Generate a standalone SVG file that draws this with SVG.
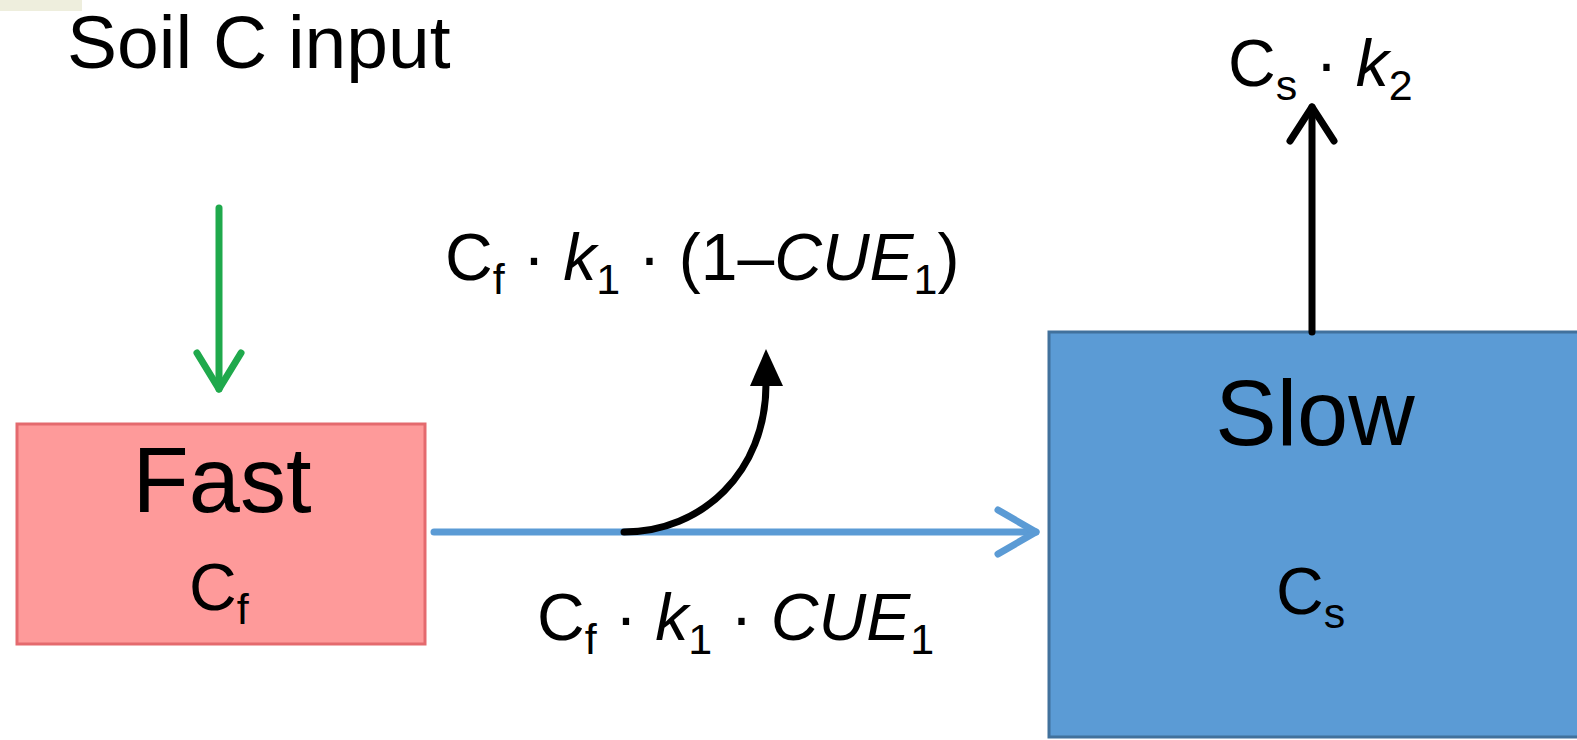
<svg xmlns="http://www.w3.org/2000/svg" width="1577" height="740" viewBox="0 0 1577 740">
<style>
text{font-family:"Liberation Sans",Arial,sans-serif;fill:#000}
.f65{font-size:66px}
.big{font-size:92px}
.lab{font-size:75px}
.it{font-style:italic}
.sub{font-size:43px}
.conn{fill:none;stroke-width:7;stroke-linecap:round;stroke-linejoin:round}
</style>
<rect x="0" y="0" width="1577" height="740" fill="#ffffff"/>
<rect x="0" y="0" width="82" height="11" fill="#eeeedd"/>
<g id="soil-input">
<text class="lab" x="67" y="68">Soil C input</text>
</g>
<g id="fast">
<rect x="17" y="424" width="408" height="220" fill="#fe9a9a" stroke="#e46a6e" stroke-width="3"/>
<text class="big" x="222" y="512" text-anchor="middle">Fast</text>
<text class="f65" x="189" y="610">C<tspan class="sub" dy="14">f</tspan></text>
</g>
<g id="slow">
<rect x="1049" y="332" width="540" height="405" fill="#5b9bd5" stroke="#41719c" stroke-width="3"/>
<text class="big" x="1315" y="445" text-anchor="middle">Slow</text>
<text class="f65" x="1276" y="614">C<tspan class="sub" dy="14">s</tspan></text>
</g>
<g id="connectors">
<g id="input-arrow" stroke="#1fa94c">
<line class="conn" x1="219" y1="208" x2="219" y2="389"/>
<polyline class="conn" points="197,353 219,389 241,353"/>
</g>
<g id="transfer-arrow" stroke="#5b9bd5">
<line class="conn" x1="434" y1="532" x2="1036" y2="532"/>
<polyline class="conn" points="998,510 1036,532 998,554"/>
</g>
<g id="respiration-fast">
<path class="conn" stroke="#000" d="M624 532 C702 532 766 472 766 384"/>
<polygon points="766,349 750,386 783,386" fill="#000"/>
</g>
<g id="respiration-slow" stroke="#000">
<line class="conn" x1="1312" y1="332" x2="1312" y2="107"/>
<polyline class="conn" points="1290,141 1312,107 1334,141"/>
</g>
</g>
<g id="labels">
<text class="f65" x="445" y="280">C<tspan class="sub" dy="14">f</tspan><tspan dy="-14"> · </tspan><tspan class="it">k</tspan><tspan class="sub" dy="14">1</tspan><tspan dy="-14"> · (1–</tspan><tspan class="it">CUE</tspan><tspan class="sub" dy="14">1</tspan><tspan dy="-14">)</tspan></text>
<text class="f65" x="537" y="640">C<tspan class="sub" dy="14">f</tspan><tspan dy="-14"> · </tspan><tspan class="it">k</tspan><tspan class="sub" dy="14">1</tspan><tspan dy="-14"> · </tspan><tspan class="it">CUE</tspan><tspan class="sub" dy="14">1</tspan></text>
<text class="f65" x="1228" y="86">C<tspan class="sub" dy="14">s</tspan><tspan dy="-14"> · </tspan><tspan class="it">k</tspan><tspan class="sub" dy="14">2</tspan></text>
</g>
</svg>
